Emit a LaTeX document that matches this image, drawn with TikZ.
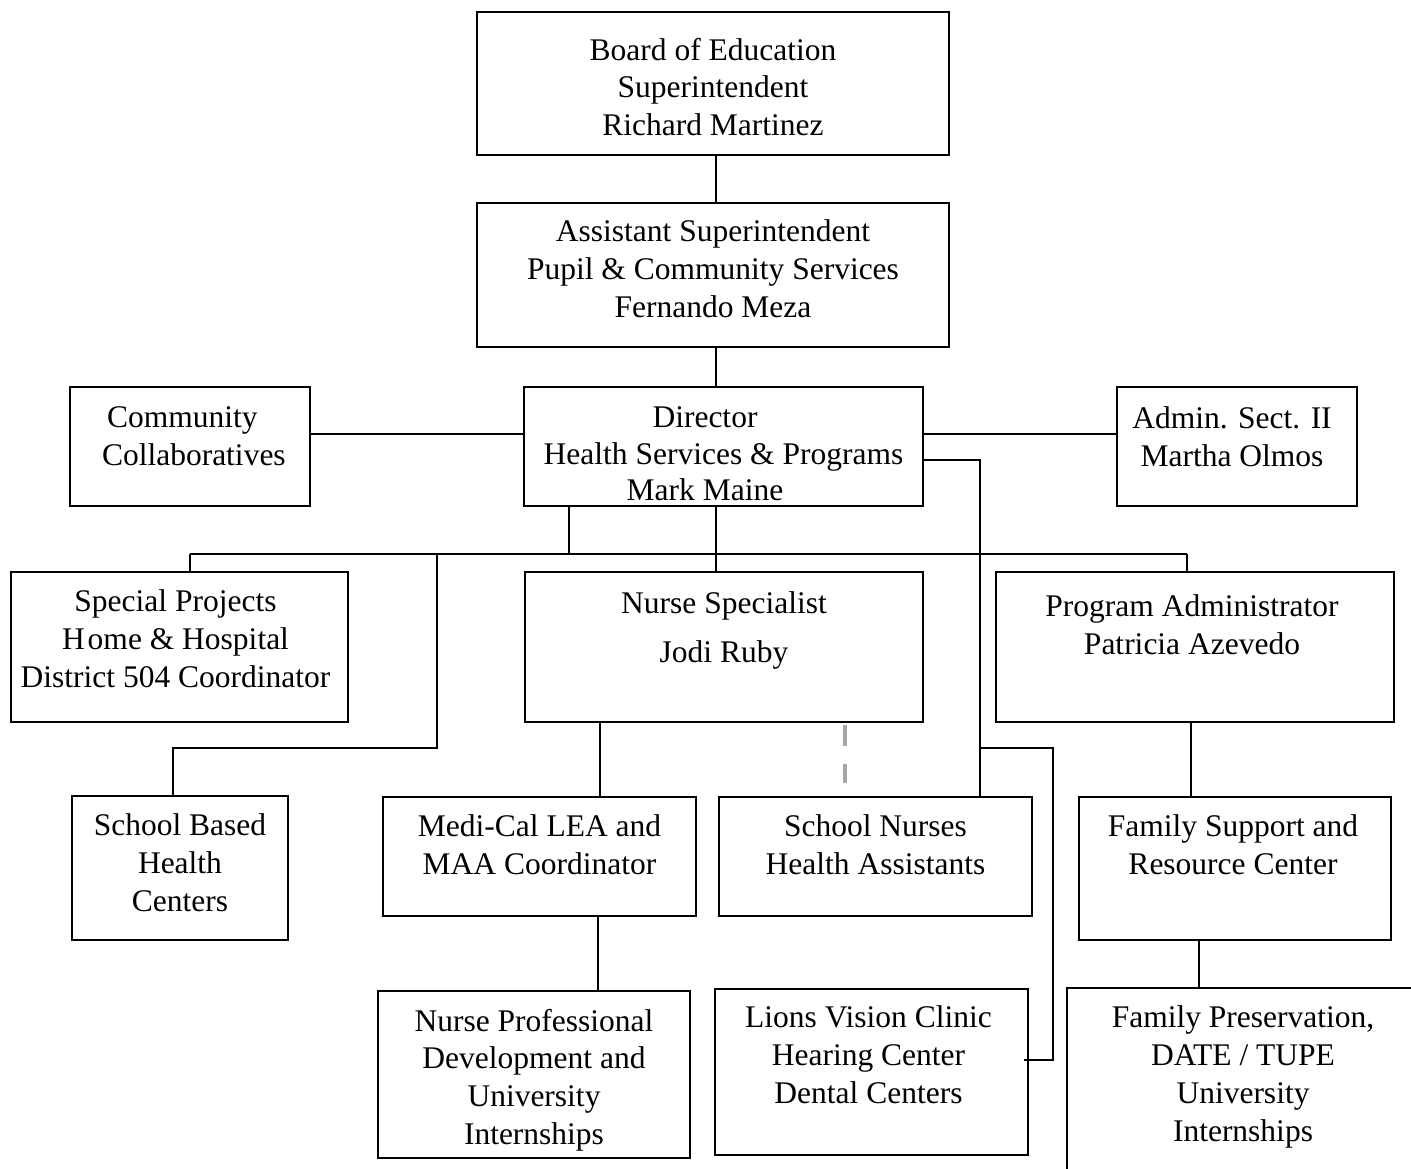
\documentclass[tikz,border=0pt]{standalone}
\usepackage{fontspec}
\setmainfont{Liberation Serif}
\usetikzlibrary{positioning}
\begin{document}
\begin{tikzpicture}[x=1pt,y=-1pt,line width=1.8pt,
  box/.style={draw, inner sep=0pt},
  txt/.style={inner sep=0pt, align=center, font=\fontsize{31.5}{37.8}\selectfont, execute at begin node=\strut},
  dashline/.style={draw=black!35, line width=3.5pt, dash pattern=on 21pt off 18pt}]
\useasboundingbox (0,0) rectangle (1411,1168);
\clip (0,0) rectangle (1411,1168);
	% boxes
	\node[box, minimum width=472pt, minimum height=143pt] (board) at (713,83.5) {};
	\node[box, minimum width=472pt, minimum height=144pt] (asst) at (713,275) {};
	\node[box, minimum width=240pt, minimum height=119pt] (comm) at (190,446.5) {};
	\node[box, minimum width=399pt, minimum height=119pt] (dir) at (723.5,446.5) {};
	\node[box, minimum width=240pt, minimum height=119pt] (admin) at (1237,446.5) {};
	\node[box, minimum width=337pt, minimum height=150pt] (spec) at (179.5,647) {};
	\node[box, minimum width=398pt, minimum height=150pt] (nspec) at (724,647) {};
	\node[box, minimum width=398pt, minimum height=150pt] (prog) at (1195,647) {};
	\node[box, minimum width=216pt, minimum height=144pt] (sbhc) at (180,868) {};
	\node[box, minimum width=313pt, minimum height=119pt] (medi) at (539.5,856.5) {};
	\node[box, minimum width=313pt, minimum height=119pt] (snurse) at (875.5,856.5) {};
	\node[box, minimum width=312pt, minimum height=143pt] (fsupp) at (1235,868.5) {};
	\node[box, minimum width=312pt, minimum height=167pt] (nprof) at (534,1074.5) {};
	\node[box, minimum width=313pt, minimum height=166pt] (lions) at (871.5,1072) {};
	\node[box, minimum width=352pt, minimum height=202pt] (fpres) at (1243,1089) {};
	% texts
	\node[txt, below=26pt of board.north] (boardtxt) {Board of Education\\Superintendent\\Richard Martinez};
	\node[txt, below=17pt of asst.north] (assttxt) {Assistant Superintendent\\Pupil \& Community Services\\Fernando Meza};
	\node[txt, align=left, below right=20pt and 32pt of comm.north west] (commtxt) {\kern5pt Community\\Collaboratives};
	\node[txt, below=20pt of dir.north] (dirtxt) {Director\rule{37pt}{0pt}\\[-1.5pt]Health Services \& Programs\\[-1.5pt]Mark Maine\rule{37pt}{0pt}};
	\node[txt, below=20pt of admin.north, xshift=-5pt] (admintxt) {Admin. Sect. II\\Martha Olmos};
	\node[txt, below=18pt of spec.north, xshift=-4pt] (spectxt) {Special Projects\\H\kern3pt ome \& Hospital\\District 504 Coordinator};
	\node[txt, below=20pt of nspec.north] (nspectxt) {Nurse Specialist\\[11pt]Jodi Ruby};
	\node[txt, below=23pt of prog.north, xshift=-3pt] (progtxt) {Program Administrator\\Patricia Azevedo};
	\node[txt, below=18pt of sbhc.north] (sbhctxt) {School Based\\Health\\Centers};
	\node[txt, below=18pt of medi.north] (meditxt) {Medi-Cal LEA and\\MAA Coordinator};
	\node[txt, below=18pt of snurse.north] (snursetxt) {School Nurses\\Health Assistants};
	\node[txt, below=18pt of fsupp.north, xshift=-2pt] (fsupptxt) {Family Support and\\Resource Center};
	\node[txt, below=18pt of nprof.north] (nproftxt) {Nurse Professional\\Development and\\University\\Internships};
	\node[txt, below=17pt of lions.north, xshift=-3pt] (lionstxt) {Lions Vision Clinic\\Hearing Center\\Dental Centers};
	\node[txt, below=18pt of fpres.north] (fprestxt) {Family Preservation,\\DATE / TUPE\\University\\Internships};
	% joints
	\coordinate (mid) at (716,554);
	\coordinate (busL) at (190,554);
	\coordinate (busR) at (1187,554);
	\coordinate (dirL) at (569,554);
	\coordinate (sbT) at (437,554);
	\coordinate (sbB) at (173,748);
	\coordinate (nrsJ) at (980,748);
	\coordinate (lionsJ) at (1053,748);
	% links
	\draw (board.south -| mid) -- (asst.north -| mid);
	\draw (asst.south -| mid) -- (dir.north -| mid);
	\draw ([yshift=12.5pt]comm.east) -- ([yshift=12.5pt]dir.west);
	\draw ([yshift=12.5pt]dir.east) -- ([yshift=12.5pt]admin.west);
	\draw (busL) -- (busR);
	\draw (dirL |- dir.south) -- (dirL);
	\draw (dir.south -| mid) -- (nspec.north -| mid);
	\draw (busL) -- (busL |- spec.north);
	\draw (busR) -- (busR |- prog.north);
	\draw (sbT) |- (sbB) -- (sbB |- sbhc.north);
	\draw ([yshift=-13.5pt]dir.east) -| (nrsJ) -- (nrsJ |- snurse.north);
	\draw (nrsJ) -- (lionsJ) |- ([xshift=-5pt,yshift=12pt]lions.east);
	\draw ([xshift=-124pt]nspec.south) -- ([xshift=-124pt]nspec.south |- medi.north);
	\draw ([xshift=58.5pt]medi.south) -- ([xshift=58.5pt]medi.south |- nprof.north);
	\draw ([xshift=-4pt]prog.south) -- ([xshift=-4pt]prog.south |- fsupp.north);
	\draw ([xshift=-36pt]fsupp.south) -- ([xshift=-36pt]fsupp.south |- fpres.north);
	\draw[dashline] ([xshift=121pt,yshift=-2pt]nspec.south) -- ++(0,58);
\end{tikzpicture}
\end{document}
